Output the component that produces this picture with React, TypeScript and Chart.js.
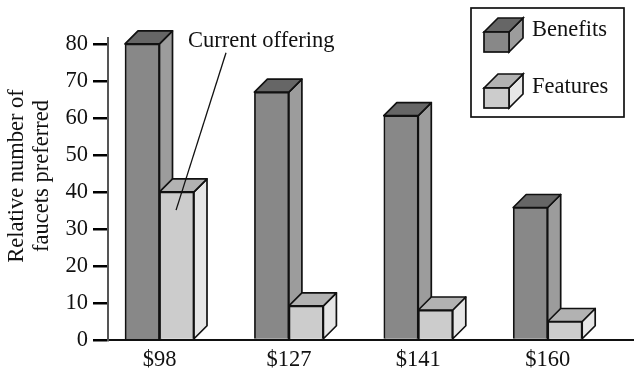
import React, { useEffect, useRef } from "react";
import { Chart, registerables } from "chart.js";

Chart.register(...registerables);

const priceLabels = ["$98", "$127", "$141", "$160"];
const benefits = [80, 67, 60.6, 35.8];
const features = [40, 9.2, 8.1, 5];
const yTicks = [0, 10, 20, 30, 40, 50, 60, 70, 80];
const axisTitleLines = ["Relative number of", "faucets preferred"];

const SERIF = '"Liberation Serif", serif';
const FONT_SIZE = 22.5;
const INK = "#111111";
const DEPTH = 13;
const EDGE = 1.7;

const benefitFaces = { front: "#888888", side: "#9c9c9c", top: "#666666" };
const featureFaces = { front: "#cccccc", side: "#e6e6e6", top: "#b2b2b2" };

function polygon(ctx: CanvasRenderingContext2D, pts: number[][], fill: string) {
  ctx.beginPath();
  pts.forEach(([x, y], i) => (i ? ctx.lineTo(x, y) : ctx.moveTo(x, y)));
  ctx.closePath();
  ctx.fillStyle = fill;
  ctx.fill();
  ctx.stroke();
}

// Top and side faces of an extruded box whose front face is given.
function extrude(
  ctx: CanvasRenderingContext2D,
  l: number,
  r: number,
  t: number,
  b: number,
  depth: number,
  faces: { side: string; top: string }
) {
  polygon(ctx, [[r, t], [r + depth, t - depth], [r + depth, b - depth], [r, b]], faces.side);
  polygon(ctx, [[l, t], [l + depth, t - depth], [r + depth, t - depth], [r, t]], faces.top);
}

const boxFaces = {
  id: "boxFaces",
  beforeDatasetsDraw(chart: any) {
    const { ctx } = chart;
    ctx.save();
    ctx.strokeStyle = INK;
    ctx.lineWidth = EDGE;
    ctx.lineJoin = "round";
    [benefitFaces, featureFaces].forEach((faces, d) => {
      chart.getDatasetMeta(d).data.forEach((bar: any) => {
        const half = bar.width / 2;
        extrude(ctx, bar.x - half, bar.x + half, bar.y, bar.base, DEPTH, faces);
      });
    });
    ctx.restore();
  },
};

const annotations = {
  id: "annotations",
  afterDraw(chart: any) {
    const { ctx, scales } = chart;
    ctx.save();
    ctx.fillStyle = INK;
    ctx.textBaseline = "middle";

    // Two-line rotated axis title
    ctx.font = `${FONT_SIZE}px ${SERIF}`;
    ctx.textAlign = "center";
    axisTitleLines.forEach((line, i) => {
      ctx.save();
      ctx.translate(17 + i * 25, 176);
      ctx.rotate(-Math.PI / 2);
      ctx.fillText(line, 0, 0);
      ctx.restore();
    });

    // Callout on the first price point
    ctx.textAlign = "left";
    ctx.fillText("Current offering", 188, 41);
    ctx.strokeStyle = INK;
    ctx.lineWidth = 1.3;
    ctx.beginPath();
    ctx.moveTo(scales.x.getPixelForValue(0.514), scales.y.getPixelForValue(77.6));
    ctx.lineTo(scales.x.getPixelForValue(0.128), scales.y.getPixelForValue(35.1));
    ctx.stroke();

    // Legend panel with a small box for each series
    ctx.lineWidth = EDGE;
    ctx.strokeStyle = INK;
    ctx.fillStyle = "#ffffff";
    ctx.fillRect(471, 8, 153, 109);
    ctx.strokeRect(471, 8, 153, 109);
    chart.data.datasets.forEach((ds: any, i: number) => {
      const faces = i === 0 ? benefitFaces : featureFaces;
      const top = 32 + i * 56;
      extrude(ctx, 484, 509, top, top + 20, 14, faces);
      ctx.fillStyle = faces.front;
      ctx.fillRect(484, top, 25, 20);
      ctx.strokeRect(484, top, 25, 20);
      ctx.fillStyle = INK;
      ctx.fillText(ds.label, 532, 30 + i * 57);
    });
    ctx.restore();
  },
};

export default function App() {
  const ref = useRef<HTMLCanvasElement>(null);

  useEffect(() => {
    const toPoints = (vals: number[]) => vals.map((y, x) => ({ x, y }));
    const chart = new Chart(ref.current!, {
      type: "bar",
      data: {
        datasets: [
          {
            label: "Benefits",
            data: toPoints(benefits),
            backgroundColor: benefitFaces.front,
            borderColor: INK,
            borderWidth: EDGE,
            barThickness: 34.5,
          },
          {
            label: "Features",
            data: toPoints(features),
            backgroundColor: featureFaces.front,
            borderColor: INK,
            borderWidth: EDGE,
            barThickness: 34.5,
          },
        ],
      },
      options: {
        responsive: false,
        animation: false,
        layout: { padding: { top: 38, right: 0, left: 0, bottom: 0 } },
        plugins: { legend: { display: false }, tooltip: { enabled: false } },
        scales: {
          x: {
            type: "linear",
            offset: false,
            min: -0.398,
            max: 3.667,
            grid: { display: false, drawTicks: false },
            border: { display: true, color: INK, width: 2 },
            afterBuildTicks(scale: any) {
              scale.ticks = priceLabels.map((_, value) => ({ value }));
            },
            afterFit(scale: any) {
              scale.height = 28;
            },
            ticks: {
              autoSkip: false,
              maxRotation: 0,
              padding: 7,
              color: INK,
              font: { family: SERIF, size: FONT_SIZE },
              callback: (v: any) => priceLabels[v],
            },
          },
          y: {
            min: 0,
            max: 81.6,
            grid: { drawOnChartArea: false, color: "#000000", lineWidth: 2.5, tickLength: 15 },
            border: { display: true, color: "#555555", width: 2 },
            afterBuildTicks(scale: any) {
              scale.ticks = yTicks.map((value) => ({ value }));
            },
            afterFit(scale: any) {
              scale.width = 108;
            },
            ticks: {
              padding: 5,
              color: INK,
              font: { family: SERIF, size: FONT_SIZE },
            },
          },
        },
      } as any,
      plugins: [boxFaces, annotations],
    });
    return () => chart.destroy();
  }, []);

  return (
    <div style={{ position: "absolute", left: 0, top: 0, background: "#fff" }}>
      <canvas ref={ref} width={634} height={368} style={{ display: "block" }} />
    </div>
  );
}
